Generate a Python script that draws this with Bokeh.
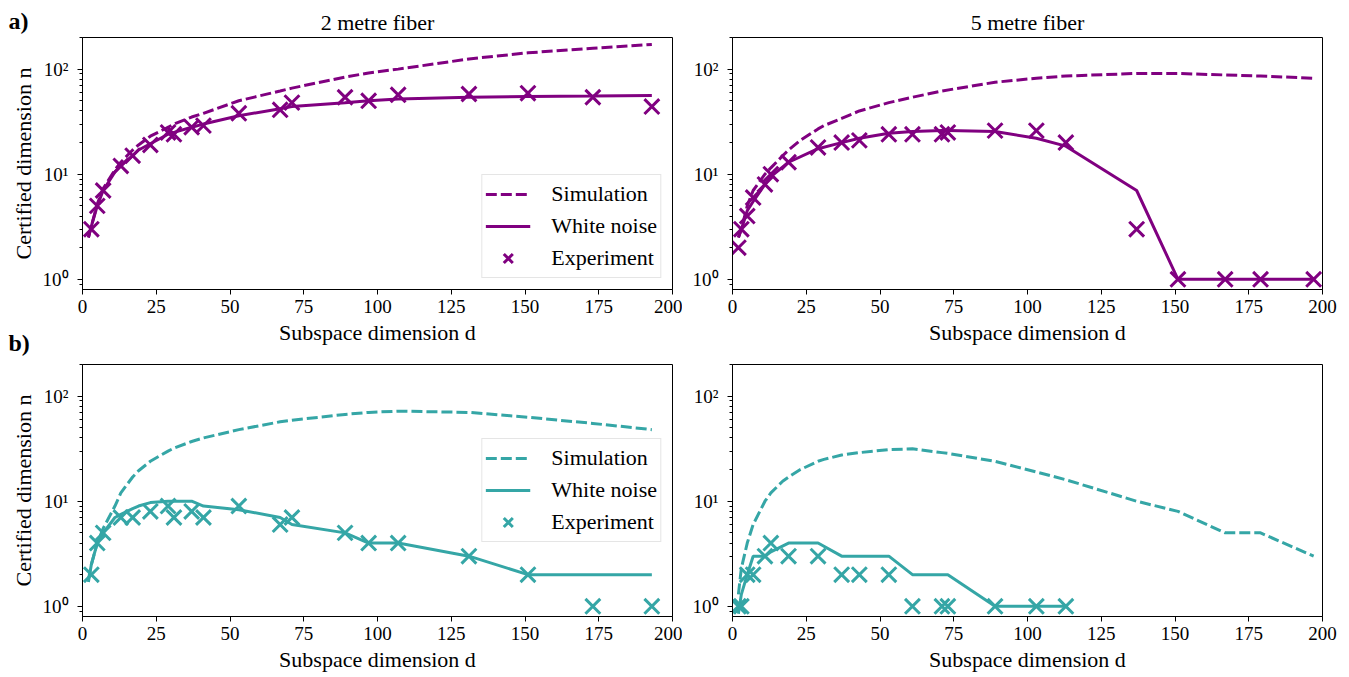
import math
from bokeh.plotting import figure
from bokeh.layouts import column, row
from bokeh.models import (Range1d, FixedTicker, CustomJSTickFormatter, Legend,
                          LegendItem)
from bokeh.core.properties import value
from bokeh.embed import file_html
from bokeh.resources import INLINE

PURPLE = "#800080"
TEAL = "#35a6a6"

# ---------------- data ----------------
# a) 2 metre fiber
a2_sim_d = [2, 3, 5, 7, 11, 13, 17, 19, 23, 29, 31, 37, 41, 53, 67, 71, 89, 97, 107, 131, 151, 173, 193]
a2_sim_n = [2.5, 3.2, 5.2, 7.3, 11, 13, 17, 19, 23, 28, 30, 35, 38, 50, 62, 66, 84, 92, 100, 125, 143, 158, 172]
a2_wn_d = [2, 3, 5, 7, 11, 13, 17, 19, 23, 29, 31, 37, 41, 53, 67, 71, 89, 97, 107, 131, 151, 173, 193]
a2_wn_n = [2.5, 3.2, 5, 7, 10.5, 12, 15, 17, 19.5, 24, 25, 28, 30, 36, 42, 44, 48, 50, 52, 54, 55, 55.5, 56]
a2_exp_d = [3, 5, 7, 13, 17, 23, 29, 31, 37, 41, 53, 67, 71, 89, 97, 107, 131, 151, 173, 193]
a2_exp_n = [3, 5, 7, 12, 15, 19, 25, 24, 28, 29, 38, 41, 48, 54, 50, 57, 58, 59, 54, 44]

# a) 5 metre fiber
a5_sim_d = [2, 3, 5, 7, 11, 13, 17, 19, 23, 29, 31, 37, 43, 53, 61, 71, 89, 103, 113, 137, 151, 167, 179, 197]
a5_sim_n = [2.5, 3, 5, 7, 10, 11.5, 15, 17, 21, 27, 29, 34, 40, 48, 54, 62, 75, 82, 86, 91, 91, 88, 86, 82]
a5_wn_d = [2, 3, 5, 7, 11, 13, 19, 29, 37, 43, 53, 61, 71, 73, 89, 103, 113, 137, 151, 167, 179, 197]
a5_wn_n = [2.5, 3, 4.5, 5.5, 8, 9.5, 13, 17.5, 20, 22, 24.5, 25.5, 26, 26, 25.5, 22, 18.5, 7, 1, 1, 1, 1]
a5_exp_d = [2, 3, 5, 7, 11, 13, 19, 29, 37, 43, 53, 61, 71, 73, 89, 103, 113, 137, 151, 167, 179, 197]
a5_exp_n = [2, 3, 4, 6, 8, 10, 13, 18, 20, 21, 24, 24, 24, 25, 26, 26, 20, 3, 1, 1, 1, 1]

# b) 2 metre fiber
b2_sim_d = [2, 3, 5, 7, 11, 13, 17, 19, 23, 29, 31, 37, 41, 53, 67, 71, 89, 97, 107, 131, 151, 173, 193]
b2_sim_n = [1.8, 2.5, 4, 5.5, 9, 12, 17, 19.5, 24, 30, 32, 37, 40, 48, 57, 59, 67, 70, 72, 70, 63, 55, 48]
b2_wn_d = [2, 3, 5, 7, 11, 13, 17, 19, 23, 29, 31, 37, 41, 53, 67, 71, 89, 97, 107, 131, 151, 173, 193]
b2_wn_n = [1.7, 2.5, 4, 5, 7, 7.5, 8.5, 9, 9.7, 10, 10, 10, 9, 8.3, 7, 6, 5, 4, 4, 3, 2, 2, 2]
b2_exp_d = [3, 5, 7, 13, 17, 23, 29, 31, 37, 41, 53, 67, 71, 89, 97, 107, 131, 151, 173, 193]
b2_exp_n = [2, 4, 5, 7, 7, 8, 9, 7, 8, 7, 9, 6, 7, 5, 4, 4, 3, 2, 1, 1]

# b) 5 metre fiber
b5_sim_d = [2, 3, 5, 7, 11, 13, 17, 19, 23, 29, 31, 37, 43, 53, 61, 71, 73, 89, 103, 113, 137, 151, 167, 179, 197]
b5_sim_n = [1.3, 2.3, 4, 6, 10, 12, 15.5, 17, 20, 24, 25, 27.5, 29, 31, 31.5, 29, 28.5, 24, 19, 16, 10, 8, 5, 5, 3]
b5_wn_d = [2, 3, 5, 7, 11, 13, 19, 29, 37, 43, 53, 61, 71, 73, 89, 103, 113]
b5_wn_n = [0.85, 1.3, 2, 3, 3, 3.3, 4, 4, 3, 3, 3, 2, 2, 2, 1, 1, 1]
b5_exp_d = [2, 3, 5, 7, 11, 13, 19, 29, 37, 43, 53, 61, 71, 73, 89, 103, 113]
b5_exp_n = [1, 1, 2, 2, 3, 4, 3, 3, 2, 2, 2, 1, 1, 1, 1, 1, 1]

x_ticks = [0, 25, 50, 75, 100, 125, 150, 175, 200]
y_ticks = [1, 10, 100]
y_minor = [0.9, 2, 3, 4, 5, 6, 7, 8, 9, 20, 30, 40, 50, 60, 70, 80, 90, 200]

panel_tags = ["a)", "b)"]
y_label = "Certified dimension n"
x_label = "Subspace dimension d"
titles = ["2 metre fiber", "5 metre fiber"]

SERIF = "Liberation Serif"
FRAME_W = 590
FRAME_H = 252
LAB_W = 36                 # strip holding panel tags and y labels
LEFT_MBL = 82 - LAB_W      # left column frame starts at x = 82
RIGHT_MBL = 50             # right column frame starts at x = 732
TOP_MBT, TOP_MBB = 37, 60
BOT_MBT, BOT_MBB = 15, 60
TOTAL_H = TOP_MBT + FRAME_H + TOP_MBB + BOT_MBT + FRAME_H + BOT_MBB


def make_fig(col, top_row, title=None):
    mbl = LEFT_MBL if col == 0 else RIGHT_MBL
    mbr = 10 if col == 0 else 17
    mbt, mbb = (TOP_MBT, TOP_MBB) if top_row else (BOT_MBT, BOT_MBB)
    p = figure(width=mbl + FRAME_W + mbr, height=mbt + FRAME_H + mbb,
               x_range=Range1d(0, 200), y_range=Range1d(0.8, 200),
               y_axis_type="log", output_backend="svg", toolbar_location=None,
               min_border_left=mbl, min_border_right=mbr,
               min_border_top=mbt, min_border_bottom=mbb,
               title=title)
    p.background_fill_color = "white"
    p.border_fill_color = "white"
    p.outline_line_color = "black"
    p.outline_line_width = 1
    p.outline_line_alpha = 1
    p.grid.visible = False
    if title:
        p.title.text_font = SERIF
        p.title.text_font_size = "22px"
        p.title.text_font_style = "normal"
        p.title.align = "center"
        p.title.standoff = 5
        p.title.text_color = "black"

    xa = p.xaxis[0]
    xa.ticker = FixedTicker(ticks=x_ticks, minor_ticks=[])
    xa.major_label_text_font = SERIF
    xa.major_label_text_font_size = "19px"
    xa.major_label_standoff = 5
    xa.major_tick_out = 5
    xa.major_tick_in = 0
    xa.minor_tick_line_color = None
    xa.axis_line_color = "black"
    xa.major_tick_line_color = "black"
    xa.major_label_text_color = "black"
    xa.axis_label = x_label
    xa.axis_label_text_font = SERIF
    xa.axis_label_text_font_size = "22px"
    xa.axis_label_text_font_style = "normal"
    xa.axis_label_text_color = "black"
    xa.axis_label_standoff = 4

    ya = p.yaxis[0]
    ya.ticker = FixedTicker(ticks=y_ticks, minor_ticks=y_minor)
    ya.formatter = CustomJSTickFormatter(code="""
        const e = Math.round(Math.log10(tick));
        const sup = {0: '\u2070', 1: '\u00b9', 2: '\u00b2'};
        return '10' + sup[e];
    """)
    ya.major_label_text_font = SERIF
    ya.major_label_text_font_size = "19px"
    ya.major_label_standoff = 9
    ya.major_tick_out = 5
    ya.major_tick_in = 0
    ya.minor_tick_out = 3
    ya.minor_tick_in = 0
    ya.axis_line_color = "black"
    ya.major_tick_line_color = "black"
    ya.minor_tick_line_color = "black"
    ya.major_label_text_color = "black"
    return p


def draw(p, color, sim_d, sim_n, wn_d, wn_n, exp_d, exp_n, legend_loc=None):
    r_sim = p.line(sim_d, sim_n, line_color=color, line_width=3, line_dash="11 4")
    r_wn = p.line(wn_d, wn_n, line_color=color, line_width=3)
    r_exp = p.scatter(exp_d, exp_n, marker="x", size=21, line_color=color, line_width=3)
    if legend_loc:
        leg = Legend(items=[LegendItem(label="Simulation", renderers=[r_sim]),
                            LegendItem(label="White noise", renderers=[r_wn]),
                            LegendItem(label="Experiment", renderers=[r_exp])],
                     location=legend_loc)
        leg.label_text_font = SERIF
        leg.label_text_font_size = "22px"
        leg.label_text_color = "black"
        leg.glyph_width = 45
        leg.glyph_height = 32
        leg.label_height = 29
        leg.spacing = 0
        leg.padding = 3
        leg.label_standoff = 21
        leg.margin = 11
        leg.border_line_color = "#cccccc"
        leg.border_line_width = 1
        leg.background_fill_color = "white"
        leg.background_fill_alpha = 0.8
        p.add_layout(leg, "center")


p1 = make_fig(0, True, titles[0])
p2 = make_fig(1, True, titles[1])
p3 = make_fig(0, False)
p4 = make_fig(1, False)

draw(p1, PURPLE, a2_sim_d, a2_sim_n, a2_wn_d, a2_wn_n, a2_exp_d, a2_exp_n, "bottom_right")
draw(p2, PURPLE, a5_sim_d, a5_sim_n, a5_wn_d, a5_wn_n, a5_exp_d, a5_exp_n)
draw(p3, TEAL, b2_sim_d, b2_sim_n, b2_wn_d, b2_wn_n, b2_exp_d, b2_exp_n, "center_right")
draw(p4, TEAL, b5_sim_d, b5_sim_n, b5_wn_d, b5_wn_n, b5_exp_d, b5_exp_n)

# narrow strip on the left: panel tags and rotated y-axis labels (pixel coordinates)
plab = figure(width=LAB_W, height=TOTAL_H, x_range=Range1d(0, LAB_W),
              y_range=Range1d(0, TOTAL_H), output_backend="svg",
              toolbar_location=None, min_border=0)
plab.axis.visible = False
plab.grid.visible = False
plab.outline_line_color = None
plab.background_fill_color = "white"
plab.border_fill_color = "white"

top_center = TOTAL_H - (TOP_MBT + FRAME_H / 2)
bot_center = BOT_MBB + FRAME_H / 2
plab.text(x=[23, 23], y=[top_center, bot_center], text=[y_label, y_label],
          angle=math.pi / 2, text_align="center", text_baseline="middle",
          text_font=value(SERIF), text_font_size="22px", text_color="black")
plab.text(x=[8, 8], y=[TOTAL_H - 20, TOTAL_H - 342], text=panel_tags,
          text_align="left", text_baseline="middle",
          text_font=value(SERIF), text_font_size="24px", text_font_style="bold",
          text_color="black")

layout = row(plab, column(row(p1, p2), row(p3, p4)))
open("out.html", "w").write(file_html(layout, INLINE))
